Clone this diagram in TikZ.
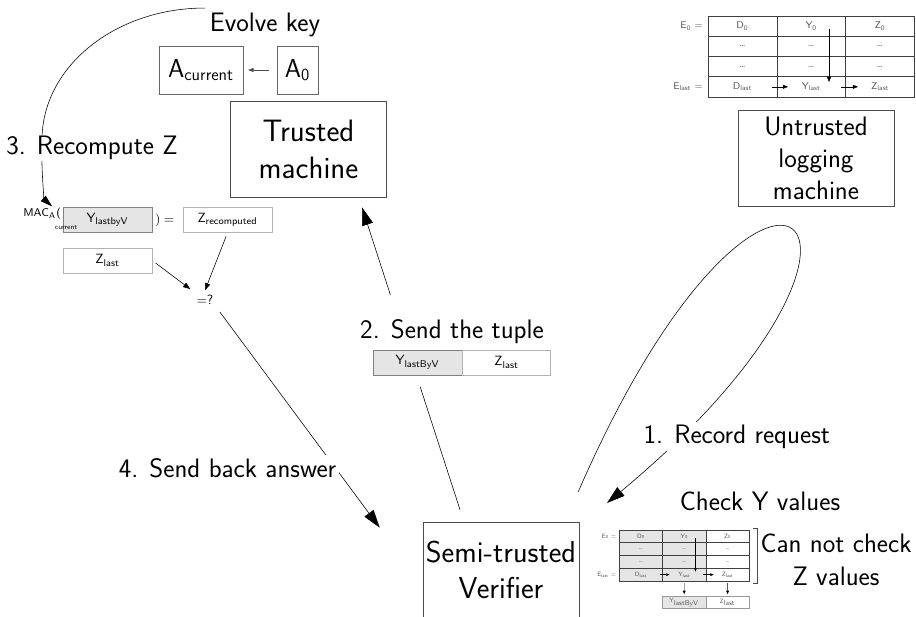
\documentclass[tikz,border=0pt]{standalone}
\usepackage{amsmath}
\usepackage{tikz}
\usetikzlibrary{positioning,arrows.meta,calc}
\renewcommand{\familydefault}{\sfdefault}

\begin{document}
\begin{tikzpicture}[
    machine/.style={draw=black!70,minimum width=3.9cm,minimum height=2.4cm,inner sep=1pt,align=center},
    caption/.style={font=\fontsize{19}{24}\selectfont,align=center},
    keybox/.style={draw=black!60,minimum height=1.2cm,inner sep=2pt,font=\fontsize{18.5}{20}\selectfont},
    valbox/.style={draw=black!30,minimum width=2.225cm,minimum height=0.625cm,inner sep=1pt,font=\fontsize{9.5}{11}\selectfont},
    greybox/.style={valbox,draw=black!50,fill=gray!20},
    cell/.style={draw=black!75,minimum width=1.72cm,minimum height=0.506cm,inner sep=0pt,text=black!65,font=\fontsize{7}{8}\selectfont},
    bigtip/.style={-{Triangle[length=4.5mm,width=2.8mm]}},
    midtip/.style={-{Triangle[length=3mm,width=1.8mm]}},
    smalltip/.style={-{Triangle[length=1.8mm,width=1.3mm]}},
  ]
  \useasboundingbox (0,0) rectangle (22.9,-15.425);

  % trusted machine and its key
  \node[caption] (evolve) at (6.625,-0.625) {Evolve key};
  \node[keybox,minimum width=2.1cm] (acur) at (5.025,-1.75) {A$_\mathsf{current}$};
  \node[keybox,minimum width=1.025cm] (azero) at (7.4375,-1.75) {A$_\mathsf{0}$};
  \node[machine,font=\fontsize{22}{26.3}\selectfont] (trusted) at (7.7125,-3.725) {Trusted\\machine};
  \draw[-{Triangle[length=1.4mm,width=1mm]},black!70,shorten <=0.2cm,shorten >=0.12cm] (azero) -- (acur);

  % recomputing the MAC
  \node[greybox] (ymac) at (2.6875,-5.5) {Y$_\mathsf{lastbyV}$};
  \node[anchor=east,inner sep=1pt,font=\fontsize{8}{9}\selectfont] (mac) at ([yshift=1pt]ymac.west)
    {MAC$_{\mathsf{A}_{\rlap{\raisebox{-6.5pt}{$\scriptscriptstyle\mathsf{current}$}}}}$(};
  \node[anchor=west,inner sep=2pt,font=\fontsize{9.5}{11}\selectfont] (equals) at (ymac.east) {$)=$};
  \node[valbox] (zrec) at (5.6875,-5.5) {Z$_\mathsf{recomputed}$};
  \node[valbox] (zlast) at (2.6875,-6.5125) {Z$_\mathsf{last}$};
  \node[font=\fontsize{9.5}{11}\selectfont] (eq) at (5.125,-7.5) {$=$?};
  \draw[smalltip,shorten <=0.1cm,shorten >=0.05cm] (zlast.east) -- (eq.north west);
  \draw[smalltip,shorten <=0.1cm] (zrec.south) -- (eq.north);

  \draw[midtip] (evolve.north west) .. controls (2.875,-0.2) and (1.05,-1.675) .. (1.05,-3.5)
    .. controls (1.025,-4.45) and (1.125,-5.0) .. ([xshift=2.5mm]mac.north);
  \node[caption,fill=white,inner sep=1pt] (recompute) at (2.3,-3.7) {3. Recompute Z};

  % verifier
  \node[machine,font=\fontsize{21.5}{25.6}\selectfont] (verifier) at (12.525,-14.25) {Semi-trusted\\Verifier};

  \draw[bigtip,shorten <=2pt] (eq.south east) -- ([xshift=-1.075cm,yshift=-0.15cm]verifier.north west);
  \node[caption,fill=white,inner sep=2pt] (answer) at (5.6875,-11.7) {4. Send back answer};

  \coordinate (tupfrom) at ([xshift=-1.025cm,yshift=0.3cm]verifier.north);
  \coordinate (tupto) at ([xshift=1.3375cm,yshift=-0.25cm]trusted.south);
  \draw (tupfrom) -- ($(tupfrom)!0.406!(tupto)$);
  \draw[bigtip] ($(tupfrom)!0.71!(tupto)$) -- (tupto);
  \node[caption] (sendlbl) at (11.3,-8.3) {2. Send the tuple};
  \node[greybox] (tupy) at (10.4375,-9.0625) {Y$_\mathsf{lastByV}$};
  \node[valbox,minimum width=2.2cm,right=0pt of tupy] (tupz) {Z$_\mathsf{last}$};

  % untrusted logger
  \node[machine,font=\fontsize{19}{22.8}\selectfont] (untrusted) at (20.4,-3.95) {Untrusted\\logging\\machine};

  \coordinate (recfrom) at ([xshift=-0.025cm,yshift=0.75cm]verifier.north east);
  \coordinate (recto) at (15.175,-12.575);
  \draw[bigtip] (recfrom) .. controls (19.135,-1.525) and (23.665,-5.52) .. (recto);
  \node[caption,fill=white,inner sep=2pt] (reclbl) at (18.42,-10.92) {1. Record request};

  % log tables
  \foreach \tb/\ox/\oy/\scl/\tint in {log/17.7/-0.4/1/white,chk/15.48/-13.25/0.63/gray!20}
  {
    \begin{scope}[shift={(\ox,\oy)},scale=\scl,transform shape]
      \foreach \r/\cd/\cy/\cz in {0/D$_\mathsf{0}$/Y$_\mathsf{0}$/Z$_\mathsf{0}$,1/\dots/\dots/\dots,2/\dots/\dots/\dots,3/D$_\mathsf{last}$/Y$_\mathsf{last}$/Z$_\mathsf{last}$}
      {
        \node[cell,fill=\tint] (\tb-\r-0) at (0.86,-0.253-0.506*\r) {\cd};
        \node[cell,fill=\tint] (\tb-\r-1) at (2.58,-0.253-0.506*\r) {\cy};
        \node[cell] (\tb-\r-2) at (4.30,-0.253-0.506*\r) {\cz};
      }
      \node[anchor=east,text=black!65,font=\fontsize{7}{8}\selectfont] (\tb-e0) at (\tb-0-0.west) {E$_\mathsf{0}$ =};
      \node[anchor=east,text=black!65,font=\fontsize{7}{8}\selectfont] (\tb-elast) at (\tb-3-0.west) {E$_\mathsf{last}$ =};
      \draw[-{Triangle[length=1.3mm,width=1mm,scale=\scl]},line width=0.3pt] ([xshift=0.445cm,yshift=-0.07cm]\tb-0-1.center) -- ([xshift=0.445cm,yshift=0.12cm]\tb-3-1.center);
      \draw[-{Triangle[length=1.3mm,width=1mm,scale=\scl]},line width=0.3pt] ([xshift=0.74cm]\tb-3-0.center) -- ([xshift=-0.58cm]\tb-3-1.center);
      \draw[-{Triangle[length=1.3mm,width=1mm,scale=\scl]},line width=0.3pt] ([xshift=0.75cm]\tb-3-1.center) -- ([xshift=-0.55cm]\tb-3-2.center);
    \end{scope}
  }

  % what the verifier can check
  \node[cell,draw=black!40,fill=gray!20,minimum width=1.083cm,minimum height=0.3cm,font=\fontsize{4.4}{5}\selectfont,below=0.375cm of chk-3-1] (chky) {Y$_\mathsf{lastByV}$};
  \node[cell,draw=black!40,minimum width=1.083cm,minimum height=0.3cm,font=\fontsize{4.4}{5}\selectfont,below=0.375cm of chk-3-2] (chkz) {Z$_\mathsf{last}$};
  \draw[-{Triangle[length=0.9mm,width=0.7mm]},line width=0.3pt,shorten <=0.05cm,shorten >=0.05cm] (chk-3-1) -- (chky);
  \draw[-{Triangle[length=0.9mm,width=0.7mm]},line width=0.3pt,shorten <=0.05cm,shorten >=0.05cm] (chk-3-2) -- (chkz);
  \draw[black!70] ([xshift=0.1cm,yshift=0.05cm]chk-0-2.north east) -- ++(0.1,0) |- ([xshift=0.1cm,yshift=-0.05cm]chk-3-2.south east);
  \node[caption] (checky) at (19.0,-12.54) {Check Y values};
  \node[caption,font=\fontsize{19}{23.5}\selectfont] (cannot) at (20.9,-13.99) {Can not check\\Z values};
\end{tikzpicture}
\end{document}
